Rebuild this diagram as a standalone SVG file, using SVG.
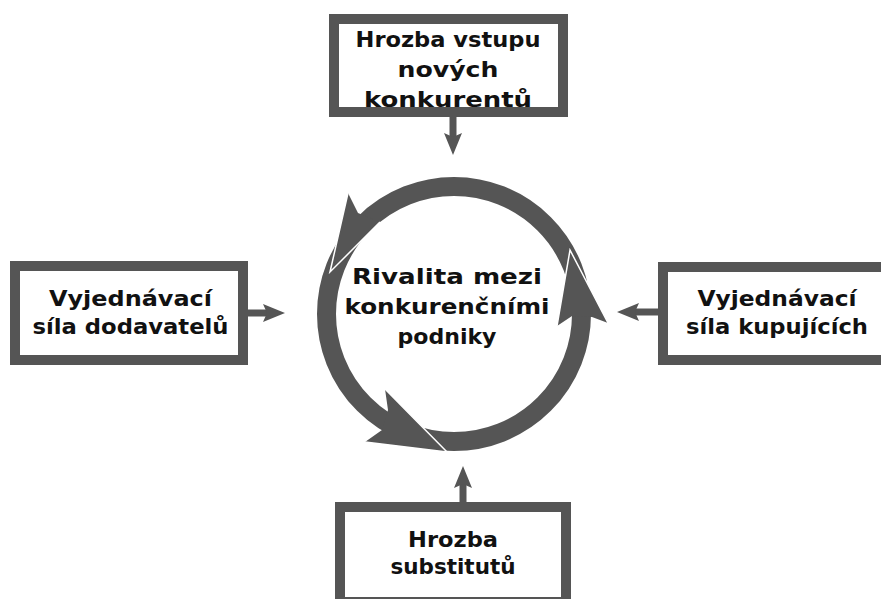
<svg xmlns="http://www.w3.org/2000/svg" width="881" height="599" viewBox="0 0 881 599">
<style>
.box{fill:#fff;stroke:#555;stroke-width:10}
.t{font-family:"DejaVu Sans","Liberation Sans",sans-serif;font-weight:bold;font-size:21.5px;fill:#111;text-anchor:middle}
.con{stroke:#555;stroke-width:7;fill:none}
.ring{fill:none;stroke:#555;stroke-width:19}
.head{fill:#555}
.edge{fill:none;stroke:#fff;stroke-width:1.5;stroke-linejoin:miter}
</style>
<defs>
<marker id="ah" viewBox="0 0 22 18" refX="4" refY="9" markerWidth="22" markerHeight="18" markerUnits="userSpaceOnUse" orient="auto">
<path d="M0,0 L22,9 L0,18 L4,9 Z" fill="#555"/>
</marker>
</defs>
<rect width="881" height="599" fill="#fff"/>
<g id="connectors">
<line class="con" x1="453" y1="117" x2="453" y2="137" marker-end="url(#ah)"/>
<line class="con" x1="248" y1="313" x2="267" y2="313" marker-end="url(#ah)"/>
<line class="con" x1="658" y1="312" x2="635" y2="312" marker-end="url(#ah)"/>
<line class="con" x1="463" y1="502" x2="463" y2="484" marker-end="url(#ah)"/>
</g>
<g id="rivalita">
<circle class="ring" cx="454" cy="314" r="127.5"/>
<polygon class="head" points="570,250 608,323 592,317 572,316 557,326"/>
<polyline class="edge" points="557,326 570,250 608,323"/>
<polygon class="head" points="447,452 385,389 388,410 382,430 365,442"/>
<polyline class="edge" points="385,389 447,452 365,442"/>
<polygon class="head" points="330,272 348,193 358,213 380,222"/>
<polyline class="edge" points="348,193 330,272 380,222"/>
<text class="t" x="447" y="284" textLength="190" lengthAdjust="spacingAndGlyphs">Rivalita mezi</text>
<text class="t" x="447" y="314" textLength="205" lengthAdjust="spacingAndGlyphs">konkurenčními</text>
<text class="t" x="447" y="344" textLength="99" lengthAdjust="spacingAndGlyphs">podniky</text>
</g>
<g id="novi-konkurenti">
<rect class="box" x="334" y="19" width="229" height="93"/>
<text class="t" x="448" y="47" textLength="185" lengthAdjust="spacingAndGlyphs">Hrozba vstupu</text>
<text class="t" x="448" y="77" textLength="101" lengthAdjust="spacingAndGlyphs">nových</text>
<text class="t" x="448" y="106.5" textLength="168" lengthAdjust="spacingAndGlyphs">konkurentů</text>
</g>
<g id="dodavatele">
<rect class="box" x="15" y="266" width="228" height="94"/>
<text class="t" x="130.5" y="305.5" textLength="163" lengthAdjust="spacingAndGlyphs">Vyjednávací</text>
<text class="t" x="130.5" y="334" textLength="196" lengthAdjust="spacingAndGlyphs">síla dodavatelů</text>
</g>
<g id="kupujici">
<rect class="box" x="663" y="267" width="230" height="93"/>
<text class="t" x="777" y="305.5" textLength="159" lengthAdjust="spacingAndGlyphs">Vyjednávací</text>
<text class="t" x="777" y="334" textLength="182" lengthAdjust="spacingAndGlyphs">síla kupujících</text>
</g>
<g id="substituty">
<rect class="box" x="340" y="507" width="226" height="95"/>
<text class="t" x="453" y="546.5" textLength="90" lengthAdjust="spacingAndGlyphs">Hrozba</text>
<text class="t" x="453" y="574" textLength="125" lengthAdjust="spacingAndGlyphs">substitutů</text>
</g>
</svg>
